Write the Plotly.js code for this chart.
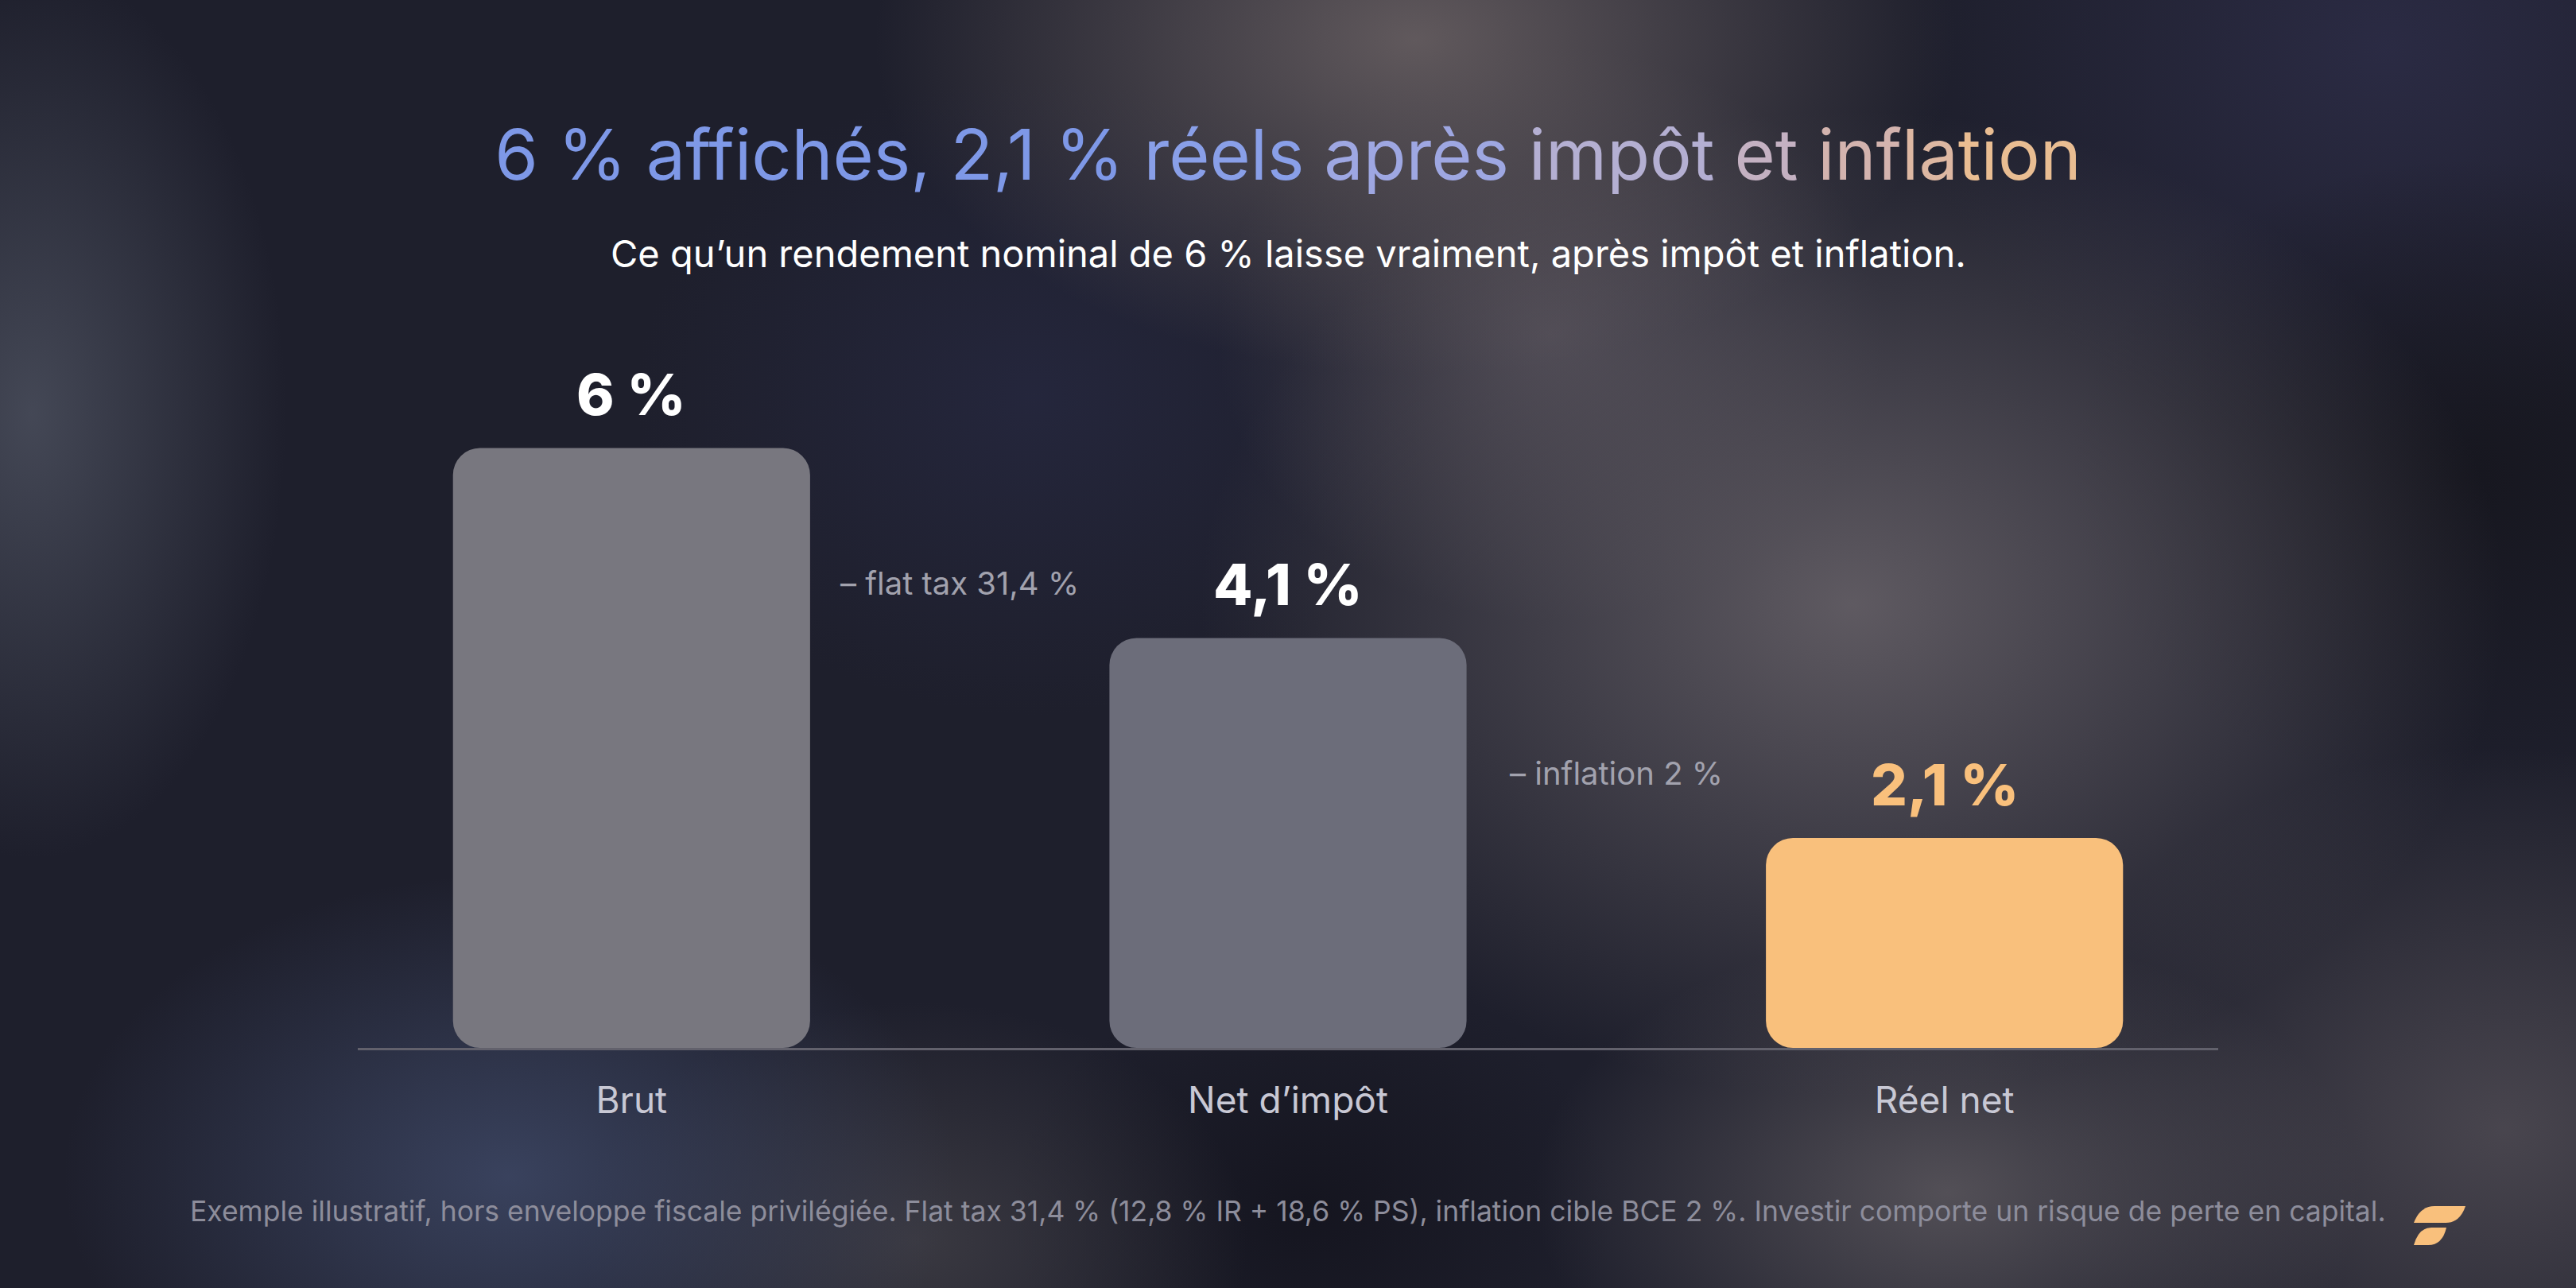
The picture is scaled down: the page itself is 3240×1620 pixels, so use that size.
<!DOCTYPE html>
<html>
<head>
<meta charset="utf-8">
<script src="https://cdn.plot.ly/plotly-3.0.1.min.js"></script>
<style>
  html, body { margin: 0; padding: 0; width: 3240px; height: 1620px; overflow: hidden; }
  body {
    background:
      radial-gradient(ellipse 680px 420px at 1780px 50px, rgba(100,92,95,0.95), rgba(100,92,95,0) 100%),
      radial-gradient(ellipse 820px 620px at 2330px 760px, rgba(98,93,100,0.95), rgba(98,93,100,0) 100%),
      radial-gradient(ellipse 420px 360px at 1950px 420px, rgba(85,80,90,0.8), rgba(85,80,90,0) 100%),
      radial-gradient(ellipse 320px 560px at 40px 520px, rgba(72,76,90,0.9), rgba(72,76,90,0) 100%),
      radial-gradient(ellipse 560px 380px at 640px 1480px, rgba(62,72,102,0.85), rgba(62,72,102,0) 100%),
      radial-gradient(ellipse 420px 300px at 1150px 1560px, rgba(70,68,74,0.7), rgba(70,68,74,0) 100%),
      radial-gradient(ellipse 520px 330px at 2450px 1500px, rgba(92,88,94,0.85), rgba(92,88,94,0) 100%),
      radial-gradient(ellipse 600px 480px at 3150px 1420px, rgba(80,76,84,0.85), rgba(80,76,84,0) 100%),
      radial-gradient(ellipse 500px 400px at 3100px 600px, rgba(22,22,30,0.9), rgba(22,22,30,0) 100%),
      radial-gradient(ellipse 380px 300px at 1650px 1520px, rgba(20,20,30,0.9), rgba(20,20,30,0) 100%),
      radial-gradient(ellipse 600px 500px at 3000px 60px, rgba(44,44,70,0.9), rgba(44,44,70,0) 100%),
      radial-gradient(ellipse 500px 400px at 1300px 500px, rgba(38,40,64,0.8), rgba(38,40,64,0) 100%),
      #1e1f2c;
  }
  #chart { position: absolute; left: 0; top: 0; width: 3240px; height: 1620px; }
  #logo { position: absolute; left: 3030px; top: 1510px; width: 80px; height: 64px; }
</style>
</head>
<body>
<div id="chart"></div>
<svg id="logo" viewBox="3030 1510 80 64" xmlns="http://www.w3.org/2000/svg">
  <path d="M3036 1538 Q3044 1517 3062 1517 L3101 1517 Q3094 1538 3076 1538 Z" fill="#f9c07c"/>
  <path d="M3036 1566 Q3042 1544 3058 1544 L3077 1544 Q3072 1566 3054 1566 Z" fill="#f9c07c"/>
</svg>
<script>
// ---- Data ----
const categories = ['Brut', 'Net d’impôt', 'Réel net'];
const values = [6, 4.1, 2.1];
const valueLabels = ['6 %', '4,1 %', '2,1 %'];
const stepLabels = ['– flat tax 31,4 %', '– inflation 2 %'];

// ---- Styles / layout constants ----
const barColors = ['#78777f', '#6c6d7a', '#f9c07c'];
const labelColors = ['#ffffff', '#ffffff', '#f9c07c'];
const stepX = [0.5, 1.5];
const stepY = [4.65, 2.75];

const PLOT_TOP = 400, PLOT_BOTTOM = 1318, PLOT_LEFT = 450, PLOT_RIGHT = 2790;
const py = p => (PLOT_BOTTOM - p) / (PLOT_BOTTOM - PLOT_TOP);

const FONT = 'Inter, "Noto Sans", sans-serif';

// floating bars (explicit base) get all four corners rounded
const bars = {
  type: 'bar', x: categories, y: values, base: values.map(() => 0),
  width: 0.544, marker: { color: barColors, cornerradius: 34, line: { width: 0 } },
  hoverinfo: 'skip', showlegend: false
};

const titleWords = [
  ['6 % affichés, 2,1 %', '#7e98e7'],
  [' réels', '#899fe8'],
  [' après', '#9ea7e2'],
  [' impôt', '#b4afd2'],
  [' et', '#c4b1c2'],
  [' inf', '#d3b3ae'],
  ['la', '#ddb7a2'],
  ['tion', '#e9bd92']
];
const titleText = titleWords.map(w => `<span style="color:${w[1]}">${w[0]}</span>`).join('');

const annotations = [];
categories.forEach((c, i) => {
  annotations.push({
    x: c, y: values[i], xref: 'x', yref: 'y', text: valueLabels[i],
    showarrow: false, yanchor: 'bottom', yshift: 22,
    font: { family: FONT, size: 72, color: labelColors[i], weight: 800 }
  });
});
stepLabels.forEach((s, i) => {
  annotations.push({
    x: stepX[i], y: stepY[i], xref: 'x', yref: 'y', text: s,
    showarrow: false, xanchor: 'center', yanchor: 'middle',
    font: { family: FONT, size: 40, color: '#a2a2ae' }
  });
});
annotations.push({
  x: 0.5, y: py(318), xref: 'paper', yref: 'paper',
  text: 'Ce qu’un rendement nominal de 6 % laisse vraiment, après impôt et inflation.',
  showarrow: false, xanchor: 'center', yanchor: 'middle',
  font: { family: FONT, size: 47, color: '#ffffff' }
});
annotations.push({
  x: 0.5, y: py(1523), xref: 'paper', yref: 'paper',
  text: 'Exemple illustratif, hors enveloppe fiscale privilégiée. Flat tax 31,4 % (12,8 % IR + 18,6 % PS), inflation cible BCE 2 %. Investir comporte un risque de perte en capital.',
  showarrow: false, xanchor: 'center', yanchor: 'middle',
  font: { family: FONT, size: 35.5, color: '#8d8d9b' }
});

const layout = {
  width: 3240, height: 1620,
  paper_bgcolor: 'rgba(0,0,0,0)', plot_bgcolor: 'rgba(0,0,0,0)',
  margin: { l: PLOT_LEFT, r: 3240 - PLOT_RIGHT, t: PLOT_TOP, b: 1620 - PLOT_BOTTOM, pad: 0 },
  barmode: 'overlay',
  title: {
    text: titleText, x: 0.5, xref: 'paper', xanchor: 'center',
    y: 1 - 195 / 1620, yref: 'container', yanchor: 'middle',
    font: { family: FONT, size: 88, color: '#7e98e7' }
  },
  xaxis: {
    type: 'category', range: [-0.417, 2.417], fixedrange: true,
    showline: true, linecolor: '#62616c', linewidth: 3,
    showgrid: false, zeroline: false,
    ticks: 'outside', ticklen: 24, tickcolor: 'rgba(0,0,0,0)',
    tickfont: { family: FONT, size: 46, color: '#c8c8d4' }
  },
  yaxis: { range: [0, 7.3], visible: false, showgrid: false, zeroline: false, fixedrange: true },
  annotations: annotations,
  showlegend: false
};

Plotly.newPlot('chart', [bars], layout, { staticPlot: true, displayModeBar: false });
</script>
</body>
</html>
